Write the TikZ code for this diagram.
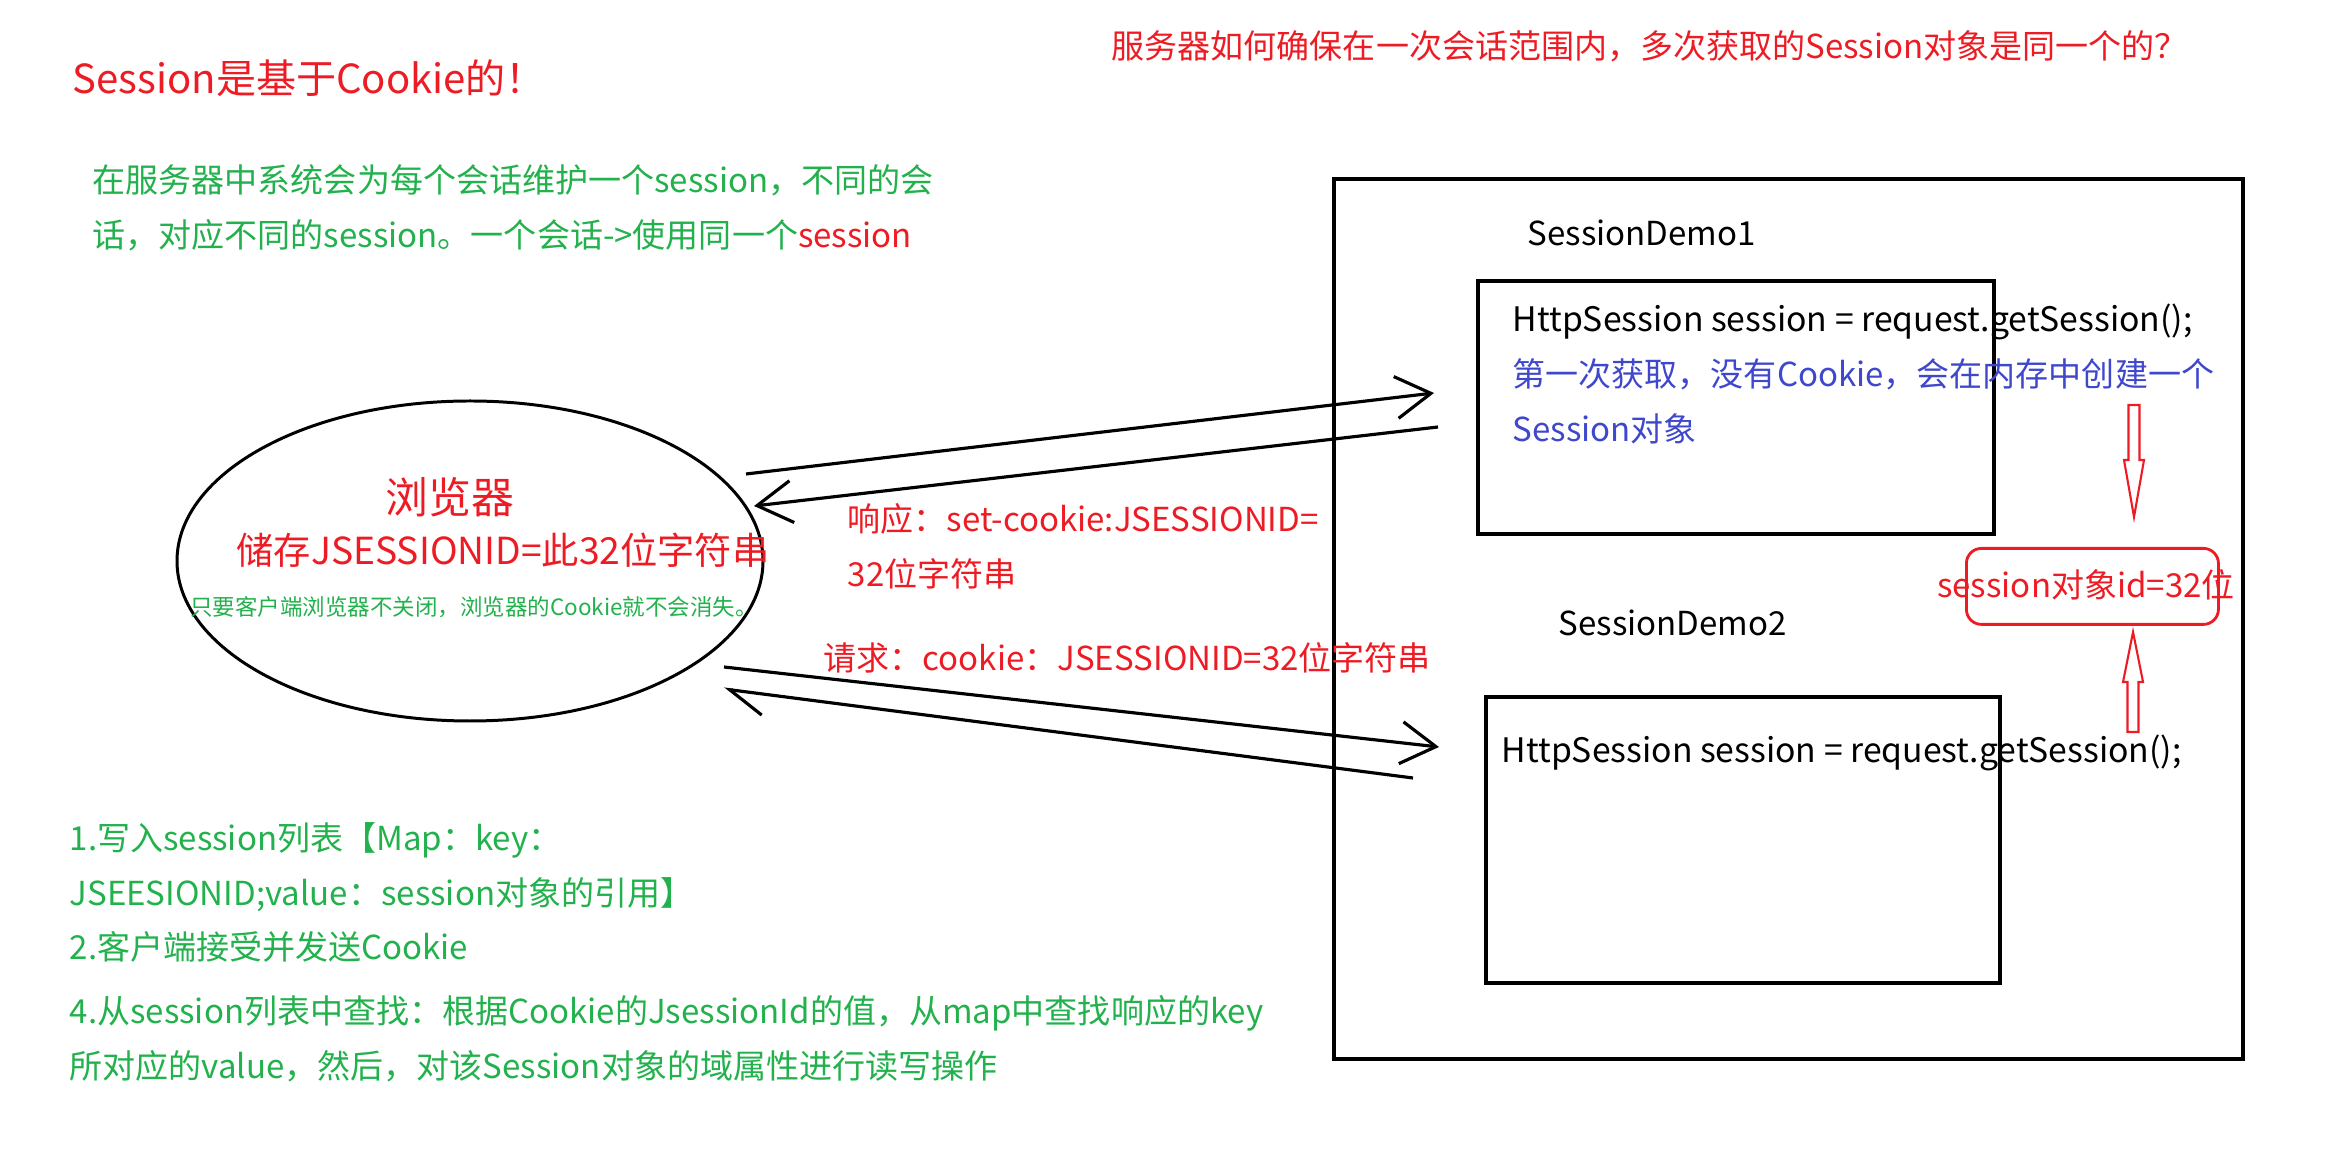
\documentclass[tikz,border=0pt]{standalone}
\usepackage{fontspec}
\setmainfont{Noto Sans CJK SC}
\usetikzlibrary{arrows.meta,positioning,shapes.geometric}
\definecolor{paintred}{HTML}{ED1C24}
\definecolor{paintgreen}{HTML}{22B14C}
\definecolor{paintblue}{HTML}{3F48CC}

\begin{document}
\begin{tikzpicture}[
  txt/.style={inner sep=0pt, anchor=west, align=left},
  box/.style={draw, line width=1pt, inner sep=0pt},
  flow/.style={line width=0.9pt, -{Straight Barb[length=3.5mm,width=4.2mm]}},
  hollow/.style={draw=paintred, line width=0.6pt, line join=miter},
  every node/.style={font=\fontsize{9.4}{15.6}\selectfont}
]
  \useasboundingbox (0,0) rectangle (23.38,-11.76);

  % Headings
  \node[txt, text=paintred, font=\fontsize{11.4}{14}\selectfont] (title) at (0.72,-0.78) {Session是基于Cookie的！};
  \node[txt, text=paintred] (question) at (11.11,-0.46) {服务器如何确保在一次会话范围内，多次获取的Session对象是同一个的？};
  \node[txt, text=paintgreen] (intro) at (0.92,-2.08)
    {在服务器中系统会为每个会话维护一个session，不同的会\\
     话，对应不同的session。一个会话->使用同一个\textcolor{paintred}{session}};

  % Browser
  \node[draw, ellipse, line width=0.85pt, minimum width=5.86cm, minimum height=3.2cm] (browser) at (4.70,-5.61) {};
  \node[text=paintred, inner sep=0pt, font=\fontsize{12.2}{14}\selectfont] (browserlbl) at (4.50,-4.97) {浏览器};
  \node[text=paintred, inner sep=0pt, font=\fontsize{10.6}{13}\selectfont] (jsid) at (5.03,-5.50) {储存JSESSIONID=此32位字符串};
  \node[text=paintgreen, inner sep=0pt, font=\fontsize{6.4}{8}\selectfont] (keep) at (4.74,-6.07) {只要客户端浏览器不关闭，浏览器的Cookie就不会消失。};

  % Server side
  \node[box, minimum width=9.09cm, minimum height=8.80cm, anchor=north west] (server) at (13.32,-1.77) {};
  \node[txt] (demo1lbl) at (15.27,-2.33) {SessionDemo1};
  \node[box, minimum width=5.16cm, minimum height=2.53cm, anchor=north west] (demo1) at (14.76,-2.79) {};
  \node[txt] (code1) at (15.12,-3.74)
    {\fontsize{9.6}{15.6}\selectfont HttpSession session = request.getSession();\\
     \fontsize{9.4}{15.6}\selectfont\textcolor{paintblue}{第一次获取，没有Cookie，会在内存中创建一个}\\
     \textcolor{paintblue}{Session对象}};
  \node[txt] (demo2lbl) at (15.58,-6.23) {SessionDemo2};
  \node[box, minimum width=5.14cm, minimum height=2.86cm, anchor=north west] (demo2) at (14.84,-6.95) {};
  \node[txt, font=\fontsize{9.6}{15.6}\selectfont] (code2) at (15.01,-7.53) {HttpSession session = request.getSession();};
  \node[draw=paintred, line width=0.8pt, rounded corners=0.15cm, minimum width=2.52cm, minimum height=0.76cm, anchor=north west] (idbox) at (19.65,-5.47) {};
  \node[text=paintred, inner sep=0pt] (idtxt) at (20.86,-5.85) {session对象id=32位};

  % Hollow arrows to the id
  \coordinate (downtop) at (21.34,-4.05);
  \coordinate (upbot) at (21.33,-7.32);
  \draw[hollow] (downtop) ++(-0.055,0) -- ++(0,-0.55) -- ++(-0.045,0) -- ++(0.1,-0.57)
    -- ++(0.1,0.57) -- ++(-0.045,0) -- ++(0,0.55) -- cycle;
  \draw[hollow] (upbot) ++(-0.055,0) -- ++(0,0.50) -- ++(-0.045,0) -- ++(0.1,0.50)
    -- ++(0.1,-0.50) -- ++(-0.045,0) -- ++(0,-0.50) -- cycle;

  % Request / response
  \coordinate (a1) at (7.46,-4.74);  \coordinate (a2) at (14.34,-3.93);
  \coordinate (b1) at (14.38,-4.27); \coordinate (b2) at (7.54,-5.06);
  \coordinate (c1) at (7.24,-6.67);  \coordinate (c2) at (14.39,-7.47);
  \coordinate (d1) at (14.13,-7.78); \coordinate (d2) at (7.24,-6.89);
  \draw[flow] (a1) -- (a2);
  \draw[flow] (b1) -- (b2);
  \draw[flow] (c1) -- (c2);
  \draw[line width=0.9pt, -{Straight Barb[harpoon,length=3.5mm,width=4.2mm]}] (d1) -- (d2);

  \node[txt, text=paintred] (resp) at (8.47,-5.46) {响应：set-cookie:JSESSIONID=\\32位字符串};
  \node[txt, text=paintred] (req) at (8.23,-6.58) {请求：cookie：JSESSIONID=32位字符串};

  % Steps
  \node[txt, text=paintgreen] (steps) at (0.69,-8.925)
    {1.写入session列表【Map：key：\\
     JSEESIONID;value：session对象的引用】\\
     2.客户端接受并发送Cookie};
  \node[txt, text=paintgreen] (lookup) at (0.69,-10.385)
    {4.从session列表中查找：根据Cookie的JsessionId的值，从map中查找响应的key\\
     所对应的value，然后，对该Session对象的域属性进行读写操作};
\end{tikzpicture}
\end{document}
